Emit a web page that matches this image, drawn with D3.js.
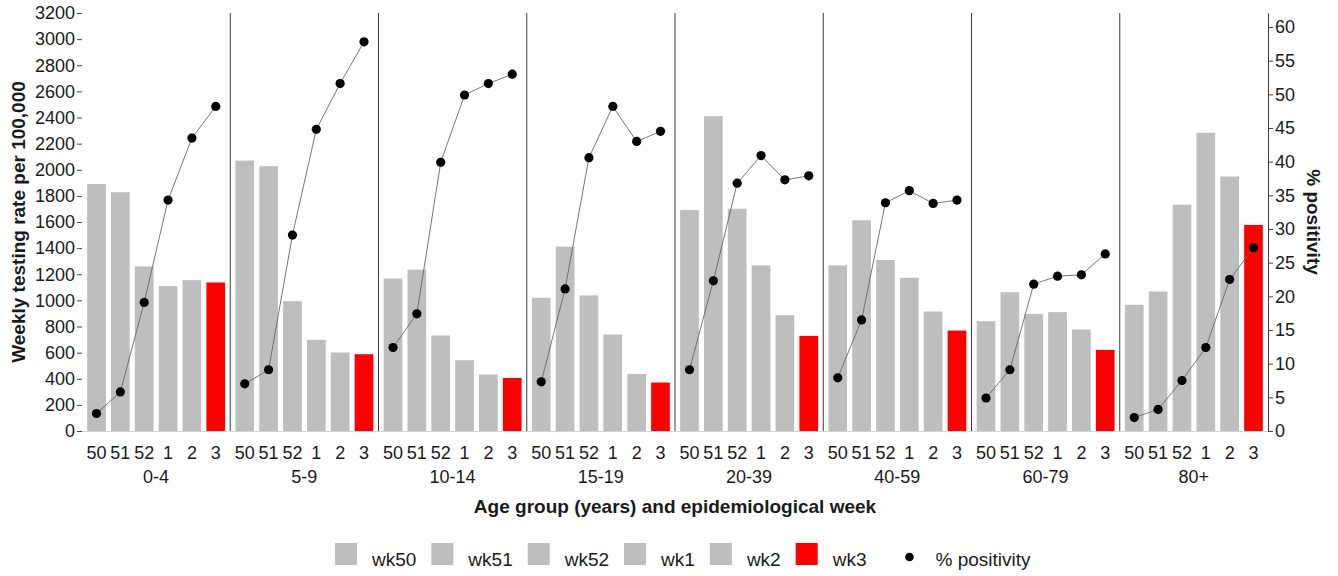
<!DOCTYPE html>
<html>
<head>
<meta charset="utf-8">
<script src="https://cdn.jsdelivr.net/npm/d3@7"></script>
<style>
  body { margin: 0; background: #fff; }
  text { font-family: "Liberation Sans", Arial, sans-serif; fill: #1a1a1a; }
</style>
</head>
<body>
<svg id="chart"></svg>
<script>
// age groups and epidemiological weeks
const ageGroups = ["0-4", "5-9", "10-14", "15-19", "20-39", "40-59", "60-79", "80+"];
const weeks = ["50", "51", "52", "1", "2", "3"];
const weekKeys = ["wk50", "wk51", "wk52", "wk1", "wk2", "wk3"];

// weekly testing rate per 100,000 (one row per age group, wk50 .. wk3)
const testingRate = [
    [1891, 1828, 1260, 1109, 1155, 1137],
    [2070, 2027, 994, 698, 601, 588],
    [1168, 1235, 731, 542, 432, 406],
    [1020, 1411, 1038, 739, 437, 371],
    [1692, 2410, 1702, 1268, 887, 728],
    [1268, 1613, 1309, 1173, 915, 769],
    [841, 1063, 897, 910, 777, 621],
    [966, 1068, 1733, 2283, 1948, 1577]
];

// % positivity (same layout)
const positivity = [
    [2.6, 5.8, 19.1, 34.3, 43.5, 48.2],
    [7.0, 9.1, 29.1, 44.8, 51.6, 57.8],
    [12.4, 17.4, 39.9, 49.9, 51.6, 53.0],
    [7.3, 21.1, 40.6, 48.2, 43.0, 44.5],
    [9.1, 22.3, 36.8, 40.9, 37.3, 37.9],
    [7.9, 16.5, 33.9, 35.7, 33.8, 34.3],
    [4.9, 9.1, 21.8, 23.0, 23.2, 26.3],
    [2.0, 3.2, 7.5, 12.4, 22.5, 27.2]
];

const leftTicks = d3.range(0, 3201, 200);
const rightTicks = d3.range(0, 61, 5);

const width = 1338, height = 576;
const plot = { left: 82, right: 1268, top: 13, bottom: 431 };

const svg = d3.select("#chart").attr("width", width).attr("height", height);

// scales
const xGroup = d3.scaleBand()
    .domain(ageGroups)
    .range([plot.left, plot.right]);

const xWeek = d3.scaleBand()
    .domain(weeks)
    .range([0, xGroup.bandwidth()])
    .paddingInner(0.216)
    .paddingOuter(0.216);

const yLeft = d3.scaleLinear().domain([0, 3200]).range([plot.bottom, plot.top]);
const yRight = d3.scaleLinear().domain([0, 62.08]).range([plot.bottom, plot.top]);

const barColor = k => k === "wk3" ? "#ff0000" : "#bebebe";

// flatten rows for binding
const rows = ageGroups.map((g, gi) => ({
    group: g,
    values: weeks.map((w, wi) => ({
        group: g, week: w, key: weekKeys[wi],
        rate: testingRate[gi][wi], pct: positivity[gi][wi]
    }))
}));

// bars
const groups = svg.append("g").selectAll(".grp")
    .data(rows)
    .join("g")
    .attr("class", "grp")
    .attr("transform", d => `translate(${xGroup(d.group)},0)`);

groups.selectAll("rect")
    .data(d => d.values)
    .join("rect")
    .attr("x", d => xWeek(d.week))
    .attr("width", xWeek.bandwidth())
    .attr("y", d => yLeft(d.rate))
    .attr("height", d => yLeft(0) - yLeft(d.rate))
    .attr("fill", d => barColor(d.key));

// baseline
svg.append("line")
    .attr("x1", plot.left - 4).attr("x2", plot.right)
    .attr("y1", plot.bottom + 0.5).attr("y2", plot.bottom + 0.5)
    .attr("stroke", "#d4d4d4").attr("stroke-width", 1);

// separators between age groups
svg.append("g").selectAll("line")
    .data(ageGroups.slice(1))
    .join("line")
    .attr("x1", d => xGroup(d)).attr("x2", d => xGroup(d))
    .attr("y1", plot.top).attr("y2", plot.bottom)
    .attr("stroke", "#3a3a3a").attr("stroke-width", 1);

// positivity lines and points
const line = d3.line()
    .x(d => xWeek(d.week) + xWeek.bandwidth() / 2)
    .y(d => yRight(d.pct));

groups.append("path")
    .attr("d", d => line(d.values))
    .attr("fill", "none")
    .attr("stroke", "#666")
    .attr("stroke-width", 0.9);

groups.selectAll("circle")
    .data(d => d.values)
    .join("circle")
    .attr("cx", d => xWeek(d.week) + xWeek.bandwidth() / 2)
    .attr("cy", d => yRight(d.pct))
    .attr("r", 4.6)
    .attr("fill", "#000");

// left axis
const axL = svg.append("g")
    .attr("transform", `translate(${plot.left},0)`)
    .call(d3.axisLeft(yLeft).tickValues(leftTicks).tickFormat(d3.format("d")).tickSize(5).tickPadding(2));
axL.select(".domain").remove();
axL.selectAll(".tick line").attr("stroke", "#444");
axL.selectAll(".tick text").style("font-size", "18px").attr("fill", "#1a1a1a");

// right axis
const axR = svg.append("g")
    .attr("transform", `translate(${plot.right},0)`)
    .call(d3.axisRight(yRight).tickValues(rightTicks).tickSize(5).tickSizeOuter(0).tickPadding(2));
axR.select(".domain").attr("stroke", "#3a3a3a");
axR.selectAll(".tick line").attr("stroke", "#444");
axR.selectAll(".tick text").style("font-size", "18px").attr("fill", "#1a1a1a");

// week labels
groups.selectAll(".wk")
    .data(d => d.values)
    .join("text")
    .attr("class", "wk")
    .attr("x", d => xWeek(d.week) + xWeek.bandwidth() / 2)
    .attr("y", 459)
    .attr("text-anchor", "middle")
    .style("font-size", "18px")
    .text(d => d.week);

// age group labels
groups.append("text")
    .attr("x", xGroup.bandwidth() / 2)
    .attr("y", 483)
    .attr("text-anchor", "middle")
    .style("font-size", "18px")
    .text(d => d.group);

// axis titles
svg.append("text")
    .attr("x", (plot.left + plot.right) / 2)
    .attr("y", 513)
    .attr("text-anchor", "middle")
    .style("font-size", "19px")
    .style("font-weight", "bold")
    .text("Age group (years) and epidemiological week");

svg.append("text")
    .attr("transform", `translate(25,${(plot.top + plot.bottom) / 2}) rotate(-90)`)
    .attr("text-anchor", "middle")
    .style("font-size", "19px")
    .style("font-weight", "bold")
    .text("Weekly testing rate per 100,000");

svg.append("text")
    .attr("transform", `translate(1307,${(plot.top + plot.bottom) / 2}) rotate(90)`)
    .attr("text-anchor", "middle")
    .style("font-size", "19px")
    .style("font-weight", "bold")
    .text("% positivity");

// legend
const legend = svg.append("g");
let lx = 335;
const keySize = 22, keyTop = 543, textBase = 566;
weekKeys.forEach(k => {
    legend.append("rect")
        .attr("x", lx).attr("y", keyTop)
        .attr("width", keySize).attr("height", keySize)
        .attr("fill", barColor(k));
    const t = legend.append("text")
        .attr("x", lx + 37).attr("y", textBase)
        .style("font-size", "19px")
        .text(k);
    lx = lx + 37 + t.node().getComputedTextLength() + 15;
});
lx += 17;
legend.append("circle")
    .attr("cx", lx + keySize / 2).attr("cy", 557)
    .attr("r", 4.3).attr("fill", "#000");
legend.append("text")
    .attr("x", lx + 37).attr("y", textBase)
    .style("font-size", "19px")
    .text("% positivity");
</script>
</body>
</html>
